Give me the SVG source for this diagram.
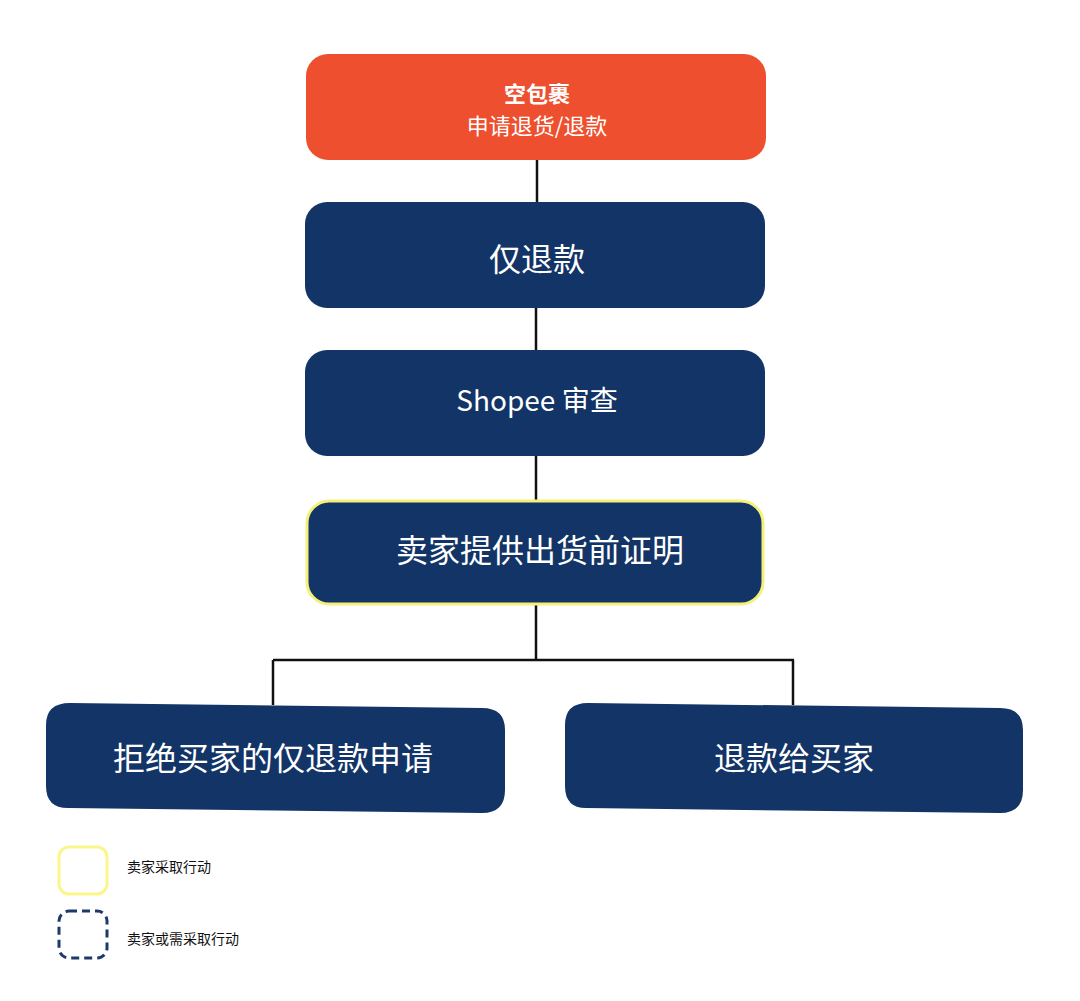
<svg xmlns="http://www.w3.org/2000/svg" width="1080" height="1001" viewBox="0 0 1080 1001">
<style>
.n{fill:#133466}
.t{fill:#fff;font-family:"Noto Sans CJK SC","Noto Sans",sans-serif;text-anchor:middle}
.c{stroke:#111;stroke-width:2.5;fill:none}
.l{fill:#111;font-family:"Noto Sans CJK SC",sans-serif;font-size:14px}
</style>
<rect width="1080" height="1001" fill="#fff"/>
<g id="connectors">
<path class="c" d="M537 160V202M536 308V350M536 456V502M536 604V660M273 660H794M273 660V705M793 660V705"/>
</g>
<g id="n1"><rect x="306" y="54" width="460" height="106" rx="22" fill="#ee4f2e"/>
<text class="t" x="537" y="102" font-size="22" font-weight="bold">空包裹</text>
<text class="t" x="537" y="134" font-size="22">申请退货/退款</text></g>
<g id="n2"><rect class="n" x="305" y="202" width="460" height="106" rx="22"/>
<text class="t" x="537" y="271" font-size="32">仅退款</text></g>
<g id="n3"><rect class="n" x="305" y="350" width="460" height="106" rx="22"/>
<text class="t" x="537" y="411" font-size="28">Shopee 审查</text></g>
<g id="n4"><rect class="n" x="307" y="501" width="456" height="103" rx="22" stroke="#f5f07a" stroke-width="3"/>
<text class="t" x="540" y="562" font-size="32">卖家提供出货前证明</text></g>
<g id="n5"><path class="n" d="M70 703L482 708Q505 708 505 730V790Q505 813 482 813L68 808Q46 808 46 786V725Q46 703 70 703Z"/>
<text class="t" x="273" y="770" font-size="32">拒绝买家的仅退款申请</text></g>
<g id="n6"><path class="n" d="M588 703L1000 708Q1023 708 1023 730V790Q1023 813 1000 813L586 808Q565 808 565 786V725Q565 703 588 703Z"/>
<text class="t" x="794" y="770" font-size="32">退款给买家</text></g>
<g id="legend">
<rect x="59" y="847" width="48" height="47" rx="10" fill="none" stroke="#fbf68a" stroke-width="3"/>
<rect x="59" y="911" width="48" height="47" rx="10" fill="none" stroke="#1d3a6a" stroke-width="3" stroke-dasharray="8 5"/>
<text class="l" x="127" y="872">卖家采取行动</text>
<text class="l" x="127" y="944">卖家或需采取行动</text>
</g>
</svg>
